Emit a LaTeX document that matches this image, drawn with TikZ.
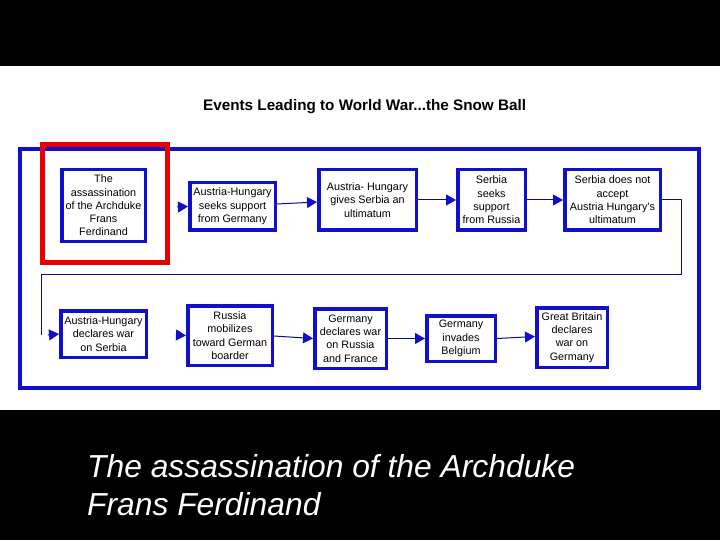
\documentclass[tikz,border=0pt]{standalone}
\usepackage{fontspec}
\setmainfont{Liberation Sans}
\usetikzlibrary{arrows.meta}
\definecolor{boxblue}{RGB}{16,16,204}
\definecolor{navyline}{RGB}{10,10,140}
\definecolor{frred}{RGB}{232,0,0}
\begin{document}
\begin{tikzpicture}[x=1bp,y=-1bp,
  evbox/.style={draw=boxblue,line width=3.5bp,fill=white,align=center,inner sep=1bp,
    font=\fontsize{10.8bp}{13.3bp}\selectfont,text=black},
  conn/.style={draw=navyline,line width=1bp,-{Triangle[length=10bp,width=11bp,color=boxblue]}},
  plainline/.style={draw=navyline,line width=1bp},
  capt/.style={anchor=base west,text=white,inner sep=0pt,font=\itshape\fontsize{31.8bp}{38bp}\selectfont}]
\useasboundingbox (0,0) rectangle (720,540);
\fill[black] (0,0) rectangle (720,540);
\fill[white] (0,66) rectangle (720,410);
\node[anchor=base west,inner sep=0pt,font=\bfseries\fontsize{15.25bp}{18bp}\selectfont] (title) at (203,111) {Events Leading to World War...the Snow Ball};
% outer frame
\draw[boxblue,line width=4bp] (20,149) rectangle (699,388);
\draw[frred,line width=5bp] (42.5,144.5) rectangle (167.5,262.5);
% row 1
\node[evbox,minimum width=83.5bp,minimum height=71.5bp] (b1) at (103.5,205.5) {The\\assassination\\of the Archduke\\Frans\\Ferdinand};
\node[evbox,minimum width=85.5bp,minimum height=47.5bp] (b2) at (232.5,206.5) {Austria-Hungary\\seeks support\\from Germany};
\node[evbox,minimum width=97.5bp,minimum height=60.5bp] (b3) at (367.5,200) {Austria- Hungary\\gives Serbia an\\ultimatum};
\node[evbox,minimum width=67.5bp,minimum height=60.5bp] (b4) at (491.5,200) {Serbia\\seeks\\support\\from Russia};
\node[evbox,minimum width=95.5bp,minimum height=60.5bp] (b5) at (612.5,200) {Serbia does not\\accept\\Austria Hungary's\\ultimatum};
% row 2
\node[evbox,minimum width=85.5bp,minimum height=46.5bp] (b6) at (103.5,334) {Austria-Hungary\\declares war\\on Serbia};
\node[evbox,minimum width=84.5bp,minimum height=59.5bp] (b7) at (230,335.5) {Russia\\mobilizes\\toward German\\boarder};
\node[evbox,minimum width=71.5bp,minimum height=59.5bp] (b8) at (350.5,338.5) {Germany\\declares war\\on Russia\\and France};
\node[evbox,minimum width=68.5bp,minimum height=45.5bp] (b9) at (461,338.5) {Germany\\invades\\Belgium};
\node[evbox,minimum width=70.5bp,minimum height=59.5bp] (b10) at (572,337.5) {Great Britain\\declares\\war on\\Germany};
% connectors
\coordinate (a2) at (177,207);
\draw[conn] (a2) -- (b2.west);
\draw[conn] ([yshift=2.5bp]b2.east) -- ([yshift=-2bp]b3.west);
\draw[conn] (b3.east) -- (b4.west);
\draw[conn] (b4.east) -- (b5.west);
\coordinate (r1) at (681,274);
\coordinate (l1) at (41,274);
\coordinate (l2) at (41,335);
\draw[plainline] (b5.east) -| (r1) -- (l1) -- (l2);
\coordinate (a6) at (48,335);
\draw[conn] (a6) -- (b6.west);
\coordinate (a7) at (176,335);
\draw[conn] (a7) -- (b7.west);
\draw[conn] ([yshift=-0.5bp]b7.east) -- (b8.west);
\draw[conn] (b8.east) -- (b9.west);
\draw[conn] (b9.east) -- ([yshift=1bp]b10.west);
% caption
\node[capt] (cap1) at (87,477) {The assassination of the Archduke};
\node[capt] (cap2) at (87,515) {Frans Ferdinand};
\end{tikzpicture}
\end{document}
